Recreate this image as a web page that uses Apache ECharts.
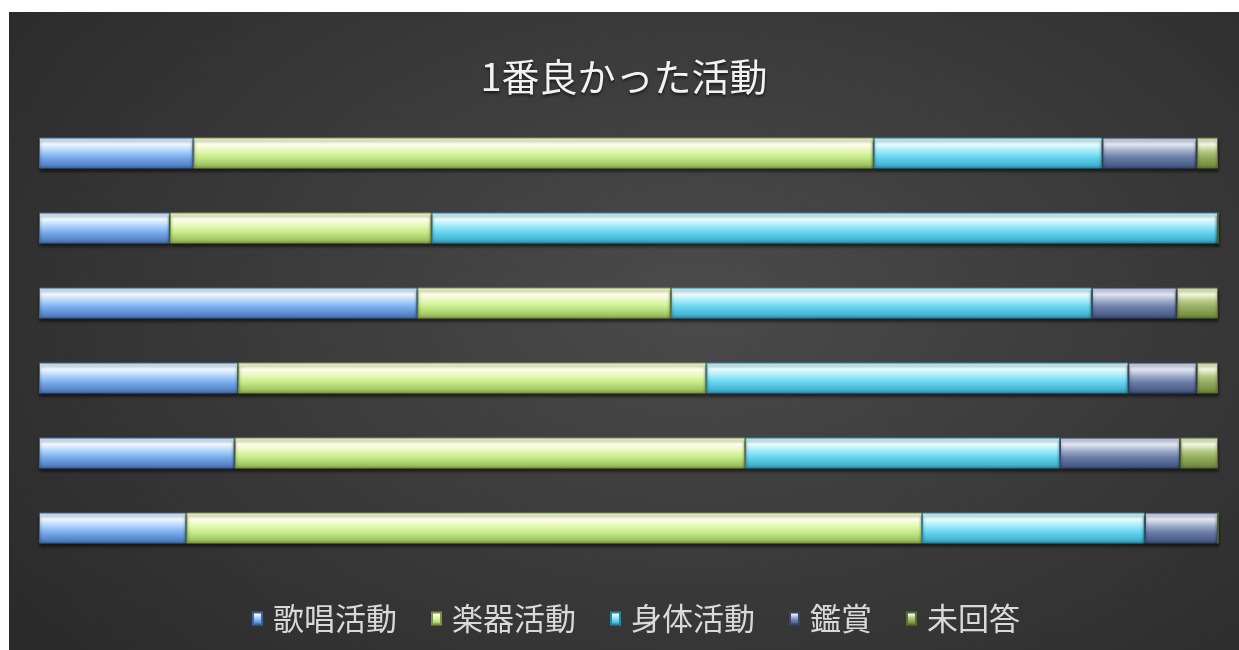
<!DOCTYPE html>
<html>
<head>
<meta charset="utf-8">
<script src="https://cdn.jsdelivr.net/npm/echarts@6/dist/echarts.min.js"></script>
<style>
html,body{margin:0;padding:0;background:#ffffff;width:1239px;height:650px;overflow:hidden;}
#chart{position:absolute;left:9px;top:12px;width:1230px;height:638px;
background:radial-gradient(ellipse 70% 85% at 56% 45%, #4b4b4b 0%, #3c3c3c 45%, #2a2a2a 100%);}
</style>
</head>
<body>
<div id="chart"></div>
<script>
const titleText = '1番良かった活動';
const categories = ['1', '2', '3', '4', '5', '6'];
const seriesNames = ['歌唱活動', '楽器活動', '身体活動', '鑑賞', '未回答'];
const singing    = [13.1, 11.1, 32.1, 16.9, 16.6, 12.5];
const instrument = [57.7, 22.2, 21.5, 39.7, 43.3, 62.4];
const physical   = [19.4, 66.7, 35.7, 35.8, 26.7, 18.9];
const listening  = [8.0,  0,    7.2,  5.8,  10.2, 6.2];
const noAnswer   = [1.8,  0,    3.5,  1.8,  3.2,  0];

const seriesValues = [singing, instrument, physical, listening, noAnswer];
const palettes = [
  {top:'#eef8ff', hi:'#a9d0fa', mid:'#78aaec', bot:'#5585c8', edge:'#3f6498'},
  {top:'#ffffea', hi:'#e2f8b0', mid:'#c4ea88', bot:'#a2c563', edge:'#7a9644'},
  {top:'#e6fcff', hi:'#9ce9fa', mid:'#62d3ee', bot:'#45b4d2', edge:'#2e859f'},
  {top:'#e2e6f2', hi:'#9aa8c8', mid:'#6a7ca6', bot:'#4c608d', edge:'#34466c'},
  {top:'#f2f8dc', hi:'#b4c884', mid:'#93ab5e', bot:'#7a9245', edge:'#5a6f33'}
];

function grad(p){
  return {type:'linear',x:0,y:0,x2:0,y2:1,colorStops:[
    {offset:0,color:p.hi},{offset:0.1,color:p.top},{offset:0.22,color:p.top},
    {offset:0.45,color:p.hi},{offset:0.65,color:p.mid},{offset:0.88,color:p.bot},{offset:1,color:p.edge}]};
}

const chart = echarts.init(document.getElementById('chart'), null, {renderer:'canvas'});
chart.setOption({
  backgroundColor:'transparent',
  animation:false,
  title:{
    text:titleText, left:'center', top:41,
    textStyle:{color:'#f2f2f2', fontSize:38, fontWeight:'normal',
      fontFamily:'"Noto Sans CJK JP", sans-serif',
      textShadowColor:'rgba(0,0,0,0.6)', textShadowBlur:3, textShadowOffsetY:2}
  },
  legend:{
    data:seriesNames, left:238, top:586, itemWidth:9, itemHeight:12, itemGap:34,
    icon:'rect',
    textStyle:{color:'#d9d9d9', fontSize:31, fontFamily:'"Noto Sans CJK JP", sans-serif', padding:[0,0,0,6]}
  },
  grid:{left:30, right:21, top:103.5, bottom:84.5},
  xAxis:{type:'value', min:0, max:100, show:false},
  yAxis:{type:'category', data:categories, inverse:true, show:false},
  series: seriesNames.map((name,i)=>({
    name:name, type:'bar', stack:'total', barWidth:31,
    data:seriesValues[i],
    itemStyle:{color:grad(palettes[i]), borderColor:palettes[i].edge, borderWidth:1,
      shadowColor:'rgba(0,0,0,0.55)', shadowBlur:3, shadowOffsetY:3}
  }))
});
</script>
</body>
</html>
